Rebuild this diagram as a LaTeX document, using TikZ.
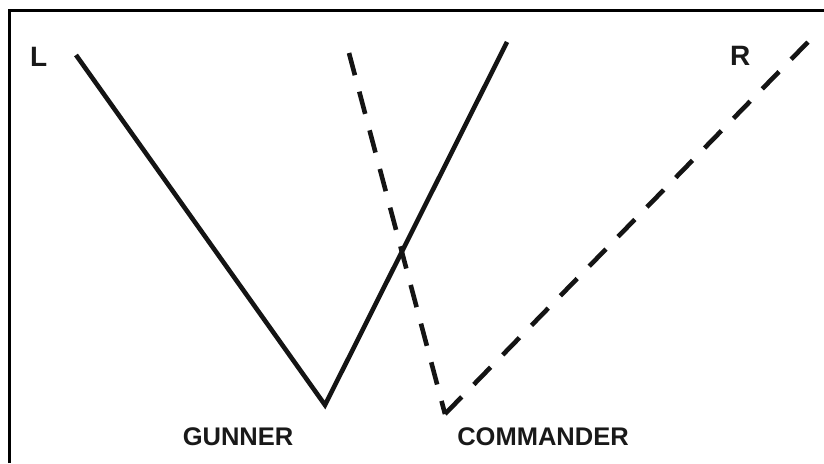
\documentclass[tikz,border=0pt]{standalone}
\usepackage{fontspec}
\setmainfont{Liberation Sans}
\begin{document}
\begin{tikzpicture}[x=1pt,y=-1pt,
  lbl/.style={font=\fontsize{25.5}{26}\selectfont\bfseries, inner sep=0pt, text=black!90},
  biglbl/.style={lbl, font=\fontsize{28}{28}\selectfont\bfseries},
  sight/.style={line width=4.6pt, line join=miter, black!92},
  dsight/.style={sight, dash pattern=on 23pt off 17pt},
  dsightb/.style={sight, dash pattern=on 24pt off 17.3pt}]
\useasboundingbox (0,0) rectangle (824,463);
% frame
\draw[line width=3pt] (9.5,463) -- (9.5,10) -- (824,10);
% coordinates
\coordinate (gl) at (76,55);
\coordinate (gv) at (325,405);
\coordinate (gr) at (507,42);
\coordinate (cl) at (349,53);
\coordinate (cv) at (445,414);
\coordinate (cr) at (808,42);
\draw[sight] (gl) -- (gv) -- (gr);
\draw[dsight] (cl) -- (cv);
\draw[dsightb] (cv) -- (cr);
\node[biglbl, anchor=base west] (L) at (30,66) {L};
\node[biglbl, anchor=base west] (R) at (730,65) {R};
\node[lbl, anchor=base] (gun) at (238,445) {GUNNER};
\node[lbl, anchor=base] (com) at (543,445) {COMMANDER};
\end{tikzpicture}
\end{document}
